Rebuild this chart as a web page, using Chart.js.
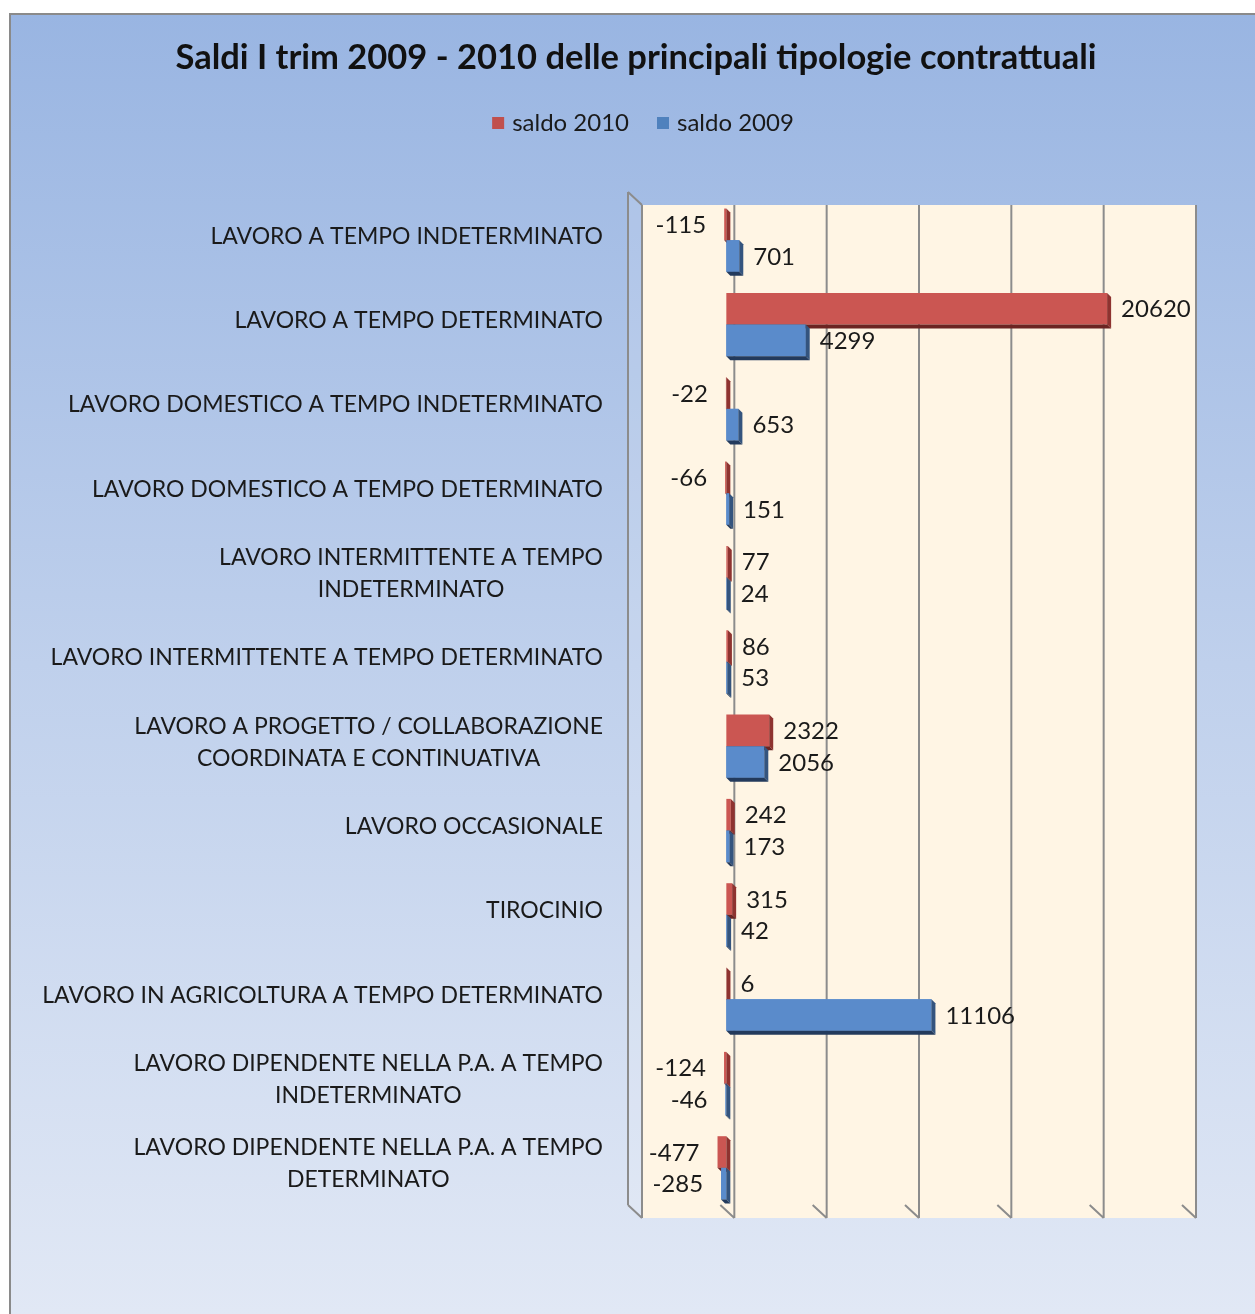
<!DOCTYPE html>
<html>
<head>
<meta charset="utf-8">
<title>Saldi I trim 2009 - 2010</title>
<script src="https://cdn.jsdelivr.net/npm/chart.js@4.4.0/dist/chart.umd.min.js"></script>
<style>
  body { margin: 0; background: #fff; }
  #wrap { width: 1255px; height: 1314px; }
</style>
</head>
<body>
<div id="wrap"><canvas id="saldiChart"></canvas></div>
<script>
const categorie = [
  "LAVORO A TEMPO INDETERMINATO",
  "LAVORO A TEMPO DETERMINATO",
  "LAVORO DOMESTICO A TEMPO INDETERMINATO",
  "LAVORO DOMESTICO A TEMPO DETERMINATO",
  ["LAVORO INTERMITTENTE A TEMPO", "INDETERMINATO"],
  "LAVORO INTERMITTENTE A TEMPO DETERMINATO",
  ["LAVORO A PROGETTO / COLLABORAZIONE", "COORDINATA E CONTINUATIVA"],
  "LAVORO OCCASIONALE",
  "TIROCINIO",
  "LAVORO IN AGRICOLTURA A TEMPO DETERMINATO",
  ["LAVORO DIPENDENTE NELLA P.A. A TEMPO", "INDETERMINATO"],
  ["LAVORO DIPENDENTE NELLA P.A. A TEMPO", "DETERMINATO"],
];
const saldo2010 = [-115, 20620, -22, -66, 77, 86, 2322, 242, 315, 6, -124, -477];
const saldo2009 = [701, 4299, 653, 151, 24, 53, 2056, 173, 42, 11106, -46, -285];
const xMin = -5000;
const xMax = 25000;
const xStep = 5000;

const titolo = "Saldi I trim 2009 - 2010 delle principali tipologie contrattuali";
const FONT = "Lato, 'Open Sans', sans-serif";
const DEPTH = 4;   // bar thickness in the fake 3D view
const WALL_DX = 8; // back wall offset
const WALL_DY = 7;

function poly(ctx, pts) {
  ctx.beginPath();
  ctx.moveTo(pts[0][0], pts[0][1]);
  for (let i = 1; i < pts.length; i++) ctx.lineTo(pts[i][0], pts[i][1]);
  ctx.closePath();
  ctx.fill();
}

const sfondo = {
  id: "sfondo",
  beforeDraw(chart) {
    const { ctx, width, height, chartArea, scales } = chart;
    ctx.save();
    const grad = ctx.createLinearGradient(0, 14, 0, height);
    grad.addColorStop(0, "#99B5E2");
    grad.addColorStop(0.5, "#BFD0EC");
    grad.addColorStop(1, "#E1E8F5");
    ctx.fillStyle = grad;
    ctx.fillRect(10, 14, width - 10, height - 14);
    ctx.strokeStyle = "#8A8A8A";
    ctx.lineWidth = 2;
    ctx.beginPath();
    ctx.moveTo(10, height);
    ctx.lineTo(10, 14);
    ctx.lineTo(width, 14);
    ctx.stroke();

    // back wall
    const x0 = scales.x.getPixelForValue(xMin) + WALL_DX;
    const x1 = scales.x.getPixelForValue(xMax) + WALL_DX;
    const top = chartArea.top + WALL_DY;
    const bottom = chartArea.bottom + WALL_DY + 1;
    ctx.fillStyle = "#FFF5E4";
    ctx.fillRect(x0, top, x1 - x0, bottom - top);

    // side wall
    ctx.fillStyle = "rgba(255,255,255,0.12)";
    poly(ctx, [[x0 - 14, top - 13], [x0, top], [x0, bottom], [x0 - 14, bottom - 13]]);

    ctx.strokeStyle = "#8C8C8C";
    ctx.lineWidth = 2;
    ctx.beginPath();
    ctx.moveTo(x0 - 14, top - 13);
    ctx.lineTo(x0, top);
    ctx.moveTo(x0 - 14, top - 13);
    ctx.lineTo(x0 - 14, bottom - 13);
    for (let v = xMin; v <= xMax; v += xStep) {
      const gx = scales.x.getPixelForValue(v) + WALL_DX;
      ctx.moveTo(gx, top);
      ctx.lineTo(gx, bottom);
      ctx.moveTo(gx - 14, bottom - 13);
      ctx.lineTo(gx, bottom);
    }
    ctx.stroke();
    ctx.restore();
  },
};

function facce(ctx, el, colori) {
  const { x, y, base, height } = el.getProps(["x", "y", "base", "height"], true);
  const left = Math.min(x, base);
  const right = Math.max(x, base);
  const top = y - height / 2;
  const bottom = y + height / 2;
  ctx.fillStyle = colori[0];
  poly(ctx, [[right, top], [right + DEPTH, top + DEPTH], [right + DEPTH, bottom + DEPTH], [right, bottom]]);
  ctx.fillStyle = colori[1];
  poly(ctx, [[left, bottom], [right, bottom], [right + DEPTH, bottom + DEPTH], [left + DEPTH, bottom + DEPTH]]);
}

const barre3d = {
  id: "barre3d",
  afterDatasetsDraw(chart) {
    const ctx = chart.ctx;
    const m0 = chart.getDatasetMeta(0);
    const m1 = chart.getDatasetMeta(1);
    ctx.save();
    m0.data.forEach((el) => facce(ctx, el, ["#8E3330", "#6B2422"]));
    m1.data.forEach((el) => el.draw(ctx));
    m1.data.forEach((el) => facce(ctx, el, ["#34547E", "#233A5C"]));

    // value labels
    ctx.font = "24px " + FONT;
    ctx.fillStyle = "#1A1A1A";
    ctx.textBaseline = "middle";
    chart.data.datasets.forEach((ds, i) => {
      chart.getDatasetMeta(i).data.forEach((el, j) => {
        const v = ds.data[j];
        if (v >= 0) {
          ctx.textAlign = "left";
          ctx.fillText(String(v), el.x + 14, el.y + 1);
        } else {
          ctx.textAlign = "right";
          ctx.fillText(String(v), el.x - 18, el.y + 1);
        }
      });
    });
    ctx.restore();
  },
};

const etichette = {
  id: "etichette",
  afterDraw(chart) {
    const { ctx, scales } = chart;
    ctx.save();
    ctx.fillStyle = "#1A1A1A";
    ctx.textBaseline = "middle";

    // category labels, right aligned block, lines centred inside it
    ctx.font = "23px " + FONT;
    const right = 603;
    categorie.forEach((lab, i) => {
      const lines = Array.isArray(lab) ? lab : [lab];
      const w = Math.max(...lines.map((l) => ctx.measureText(l).width));
      const cy = scales.y.getPixelForValue(i) - 4;
      ctx.textAlign = "center";
      lines.forEach((l, k) => {
        ctx.fillText(l, right - w / 2, cy + (k - (lines.length - 1) / 2) * 32);
      });
    });

    // title
    ctx.font = "bold 34.5px " + FONT;
    ctx.textAlign = "center";
    ctx.fillStyle = "#111";
    ctx.fillText(titolo, 636, 58);

    // legend
    ctx.font = "24px " + FONT;
    ctx.textAlign = "left";
    const items = chart.data.datasets.map((ds) => ({
      label: ds.label,
      color: ds.legendColor,
      w: 20 + ctx.measureText(ds.label).width,
    }));
    const gap = 28;
    const total = items.reduce((s, it) => s + it.w, 0) + gap * (items.length - 1);
    let lx = 643 - total / 2;
    items.forEach((it) => {
      ctx.fillStyle = it.color;
      ctx.fillRect(lx, 117, 12, 12);
      ctx.fillStyle = "#1A1A1A";
      ctx.fillText(it.label, lx + 20, 123);
      lx += it.w + gap;
    });
    ctx.restore();
  },
};

new Chart(document.getElementById("saldiChart"), {
  type: "bar",
  data: {
    labels: categorie,
    datasets: [
      {
        label: "saldo 2010",
        data: saldo2010,
        backgroundColor: "#CB5652",
        legendColor: "#C0504D",
        categoryPercentage: 0.75,
        barPercentage: 1,
      },
      {
        label: "saldo 2009",
        data: saldo2009,
        backgroundColor: "#5A8BCB",
        legendColor: "#4F81BD",
        categoryPercentage: 0.75,
        barPercentage: 1,
      },
    ],
  },
  options: {
    indexAxis: "y",
    responsive: true,
    maintainAspectRatio: false,
    animation: false,
    layout: { padding: { left: 634, right: 67, top: 198, bottom: 104 } },
    scales: {
      x: { display: false, min: xMin, max: xMax },
      y: { display: false },
    },
    plugins: {
      legend: { display: false },
      title: { display: false },
      tooltip: { enabled: false },
    },
  },
  plugins: [sfondo, barre3d, etichette],
});
</script>
</body>
</html>
